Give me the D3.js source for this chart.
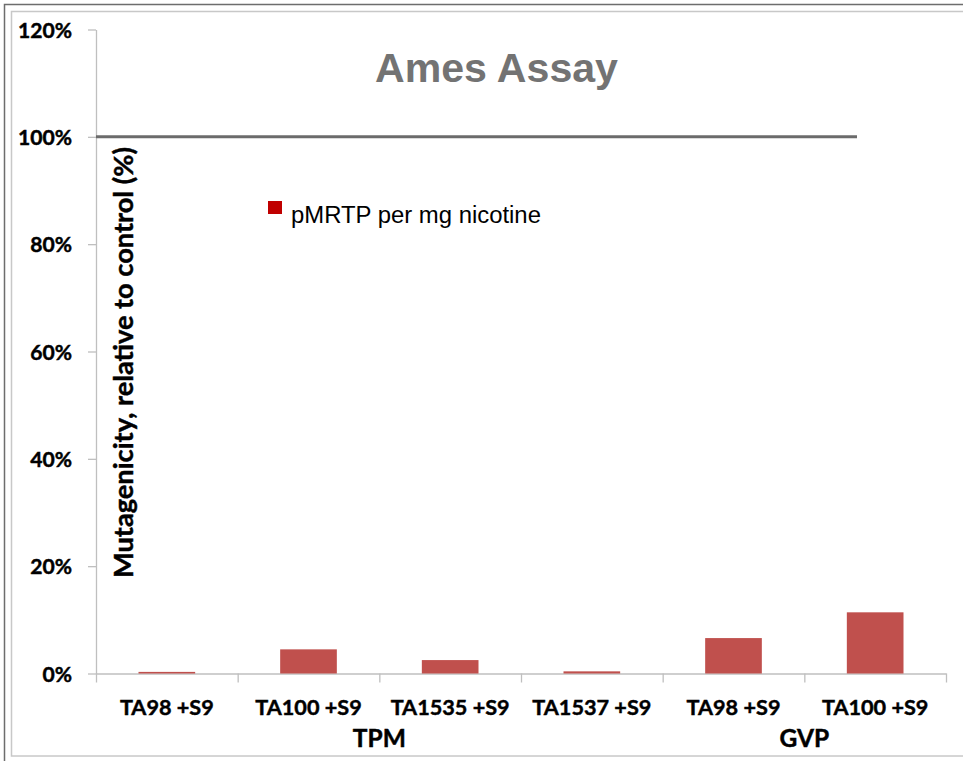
<!DOCTYPE html>
<html><head><meta charset="utf-8">
<script src="https://cdn.jsdelivr.net/npm/d3@7"></script>
<style>body{margin:0;background:#fff} svg{display:block}</style>
</head><body>
<svg id="chart" width="963" height="761"></svg>
<script>
// ---- data ----
const categories = ["TA98 +S9", "TA100 +S9", "TA1535 +S9", "TA1537 +S9", "TA98 +S9", "TA100 +S9"];
const groups = ["TPM", "TPM", "TPM", "TPM", "GVP", "GVP"];
const groupNames = ["TPM", "GVP"];
const values = [0.003, 0.045, 0.025, 0.004, 0.066, 0.114];
const yTicks = [0, 0.2, 0.4, 0.6, 0.8, 1.0, 1.2];
const controlLevel = 1.0;
const seriesName = "pMRTP per mg nicotine";
const titleText = "Ames Assay";
const yTitleText = "Mutagenicity, relative to control (%)";

// ---- layout ----
const svg = d3.select("#chart");
const mLeft = 96, mRight = 946, mTop = 29.5, mBottom = 673.5;
const calibri = "Lato, 'Open Sans', sans-serif";
const arial = "'Liberation Sans', Arial, sans-serif";

function fit(sel, target) {
  const w = sel.node().getComputedTextLength();
  const fs = parseFloat(sel.attr("font-size"));
  const nfs = fs * target / w;
  sel.attr("font-size", nfs);
  return nfs;
}
function heavy(sel) {
  return sel.attr("stroke", "#000").attr("stroke-width", 0.45).attr("paint-order", "stroke");
}

// borders
svg.append("rect").attr("x", 4.5).attr("y", 4.5).attr("width", 990).attr("height", 790)
  .attr("fill", "none").attr("stroke", "#6d6d6d").attr("stroke-width", 1.5);
svg.append("rect").attr("x", 11.5).attr("y", 11.5).attr("width", 990).attr("height", 744.5)
  .attr("fill", "none").attr("stroke", "#c8c8c8").attr("stroke-width", 1.5);

const idx = d3.range(categories.length);
const x = d3.scaleBand().domain(idx).range([mLeft, mRight]).paddingInner(0.6).paddingOuter(0.3);
const xb = d3.scaleLinear().domain([0, categories.length]).range([mLeft, mRight]);
const y = d3.scaleLinear().domain([0, 1.2]).range([mBottom, mTop]);

// y axis
const yAxis = svg.append("g").attr("transform", `translate(${mLeft},0)`)
  .call(d3.axisLeft(y).tickValues(yTicks).tickFormat(d3.format(".0%")).tickSize(8).tickSizeOuter(0).tickPadding(16));
yAxis.select(".domain").attr("stroke", "#bfbfbf").attr("stroke-width", 1.3);
yAxis.selectAll(".tick line").attr("stroke", "#bfbfbf").attr("stroke-width", 1.3);
const yl = yAxis.selectAll(".tick text").attr("font-family", calibri).attr("font-weight", "bold")
  .attr("font-size", 20).attr("fill", "#000").attr("dy", "0.36em");
const ref = yAxis.selectAll(".tick text").filter(d => d === 1.2);
const yfs = fit(ref, 54);
yl.attr("font-size", yfs);
heavy(yl);

// x axis (boundary ticks)
const xAxis = svg.append("g").attr("transform", `translate(0,${mBottom})`)
  .call(d3.axisBottom(xb).tickValues(d3.range(categories.length + 1)).tickFormat("").tickSize(9).tickSizeOuter(0));
xAxis.select(".domain").attr("stroke", "#bfbfbf").attr("stroke-width", 1.3);
xAxis.selectAll(".tick line").attr("stroke", "#bfbfbf").attr("stroke-width", 1.3);

// bars
svg.append("g").selectAll("rect").data(values).join("rect")
  .attr("x", (d, i) => x(i)).attr("width", x.bandwidth())
  .attr("y", d => y(d)).attr("height", d => y(0) - y(d))
  .attr("fill", "#c0504d");

// control line at 100%
svg.append("line").attr("x1", mLeft).attr("x2", 857).attr("y1", y(controlLevel)).attr("y2", y(controlLevel))
  .attr("stroke", "#6b6b6b").attr("stroke-width", 3);

// category labels
const cl = svg.append("g").selectAll("text").data(categories).join("text")
  .attr("x", (d, i) => x(i) + x.bandwidth() / 2).attr("y", 715)
  .attr("text-anchor", "middle").attr("font-family", calibri).attr("font-weight", "bold")
  .attr("font-size", 20).attr("fill", "#000").text(d => d);
const cfs = fit(cl.filter((d, i) => i === 0), 94);
cl.attr("font-size", cfs);
heavy(cl);

// group labels
const gl = svg.append("g").selectAll("text").data(groupNames).join("text")
  .attr("x", g => {
    const ii = idx.filter(i => groups[i] === g);
    return (x(d3.min(ii)) + x(d3.max(ii)) + x.bandwidth()) / 2;
  })
  .attr("y", 747).attr("text-anchor", "middle").attr("font-family", calibri).attr("font-weight", "bold")
  .attr("font-size", 22).attr("fill", "#000").text(d => d);
const gfs = fit(gl.filter((d, i) => i === 0), 53);
gl.attr("font-size", gfs);
heavy(gl);

// title
const t = svg.append("text").attr("x", 496.5).attr("y", 82).attr("text-anchor", "middle")
  .attr("font-family", arial).attr("font-weight", "bold").attr("font-size", 40)
  .attr("fill", "#737373").text(titleText);
fit(t, 243);

// legend
svg.append("rect").attr("x", 268).attr("y", 201).attr("width", 14).attr("height", 13).attr("fill", "#c00000");
const lt = svg.append("text").attr("x", 291).attr("y", 223).attr("font-family", arial)
  .attr("font-size", 22).attr("fill", "#000").text(seriesName);
fit(lt, 250);

// y title
const yt = svg.append("text").attr("transform", "translate(133,362.5) rotate(-90)")
  .attr("text-anchor", "middle").attr("font-family", calibri).attr("font-weight", "bold")
  .attr("font-size", 24).attr("fill", "#000").text(yTitleText);
fit(yt, 431);
heavy(yt);
</script>
</body></html>
